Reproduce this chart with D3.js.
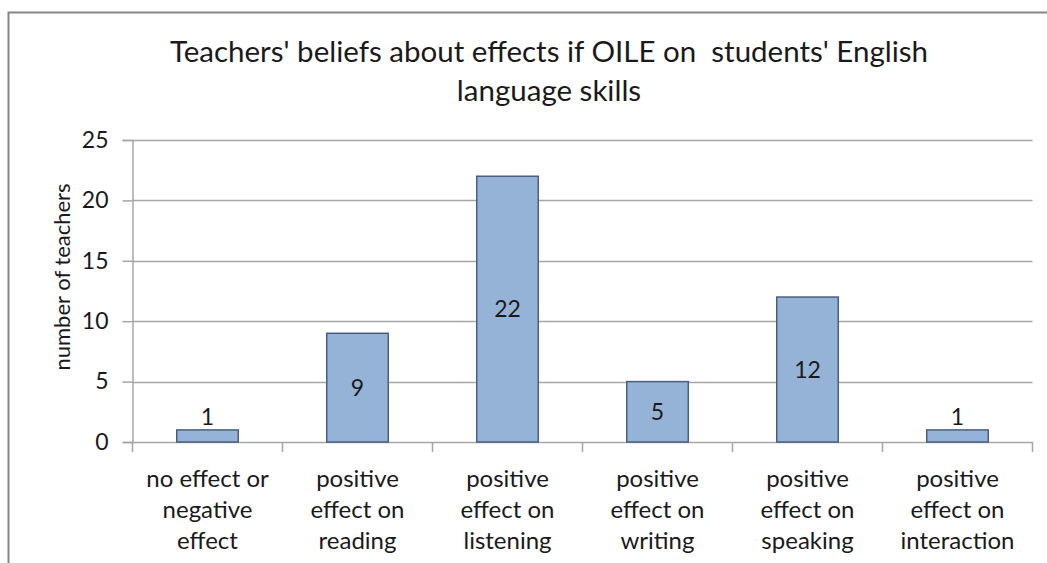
<!DOCTYPE html>
<html>
<head>
<meta charset="utf-8">
<script src="https://cdn.jsdelivr.net/npm/d3@7"></script>
<style>
 body { margin: 0; background: #fff; }
 text { font-family: Lato, "Open Sans", sans-serif; fill: #1a1a1a; }
</style>
</head>
<body>
<div id="chart"></div>
<script>
const categories = [
 ["no effect or", "negative", "effect"],
 ["positive", "effect on", "reading"],
 ["positive", "effect on", "listening"],
 ["positive", "effect on", "writing"],
 ["positive", "effect on", "speaking"],
 ["positive", "effect on", "interaction"]
];
const values = [1, 9, 22, 5, 12, 1];
const yTicks = [0, 5, 10, 15, 20, 25];
const titleLines = ["Teachers' beliefs about effects if OILE on  students' English", "language skills"];
const yLabel = "number of teachers";

const width = 1047, height = 563;
const plot = { left: 132.5, right: 1032.5, top: 140, bottom: 442 };

const svg = d3.select("#chart")
 .append("svg")
 .attr("width", width)
 .attr("height", height);

// chart frame (cropped on the right and bottom)
svg.append("rect")
 .attr("x", 8.5).attr("y", 12.5)
 .attr("width", 1100).attr("height", 600)
 .attr("fill", "#fff")
 .attr("stroke", "#868686")
 .attr("stroke-width", 2);

const x = d3.scaleBand()
 .domain(d3.range(values.length))
 .range([plot.left, plot.right])
 .paddingInner(0.59)
 .paddingOuter(0.295);

const xEdges = d3.scaleLinear()
 .domain([0, values.length])
 .range([plot.left, plot.right]);

const y = d3.scaleLinear()
 .domain([0, 25])
 .range([plot.bottom, plot.top]);

// gridlines
svg.append("g")
 .selectAll("line")
 .data(yTicks.filter(d => d > 0))
 .join("line")
 .attr("x1", plot.left).attr("x2", plot.right)
 .attr("y1", d => Math.round(y(d)) + 0.5)
 .attr("y2", d => Math.round(y(d)) + 0.5)
 .attr("stroke", "#a6a6a6")
 .attr("stroke-width", 1.5);

// y axis
const yAxis = svg.append("g")
 .attr("transform", `translate(${plot.left},0)`)
 .call(d3.axisLeft(y).tickValues(yTicks).tickSize(10).tickPadding(14));
yAxis.select(".domain").attr("stroke", "#a6a6a6").attr("stroke-width", 1.5);
yAxis.selectAll(".tick line").attr("stroke", "#a6a6a6").attr("stroke-width", 1.5);
yAxis.selectAll(".tick text")
 .attr("font-family", "Lato, sans-serif")
 .attr("font-size", 23)
 .attr("fill", "#1a1a1a");

// x axis baseline and category separators
const xAxis = svg.append("g");
xAxis.append("line")
 .attr("x1", plot.left).attr("x2", plot.right)
 .attr("y1", plot.bottom + 0.5).attr("y2", plot.bottom + 0.5)
 .attr("stroke", "#a6a6a6").attr("stroke-width", 1.5);
xAxis.selectAll(".sep")
 .data(d3.range(values.length + 1))
 .join("line")
 .attr("class", "sep")
 .attr("x1", d => xEdges(d)).attr("x2", d => xEdges(d))
 .attr("y1", plot.bottom).attr("y2", plot.bottom + 10)
 .attr("stroke", "#a6a6a6").attr("stroke-width", 1.5);

// category labels
const catLabels = svg.append("g")
 .selectAll("text")
 .data(categories)
 .join("text")
 .attr("text-anchor", "middle")
 .attr("font-size", 24)
 .attr("x", (d, i) => x(i) + x.bandwidth() / 2)
 .attr("y", 487);
catLabels.selectAll("tspan")
 .data(d => d)
 .join("tspan")
 .attr("x", function () { return d3.select(this.parentNode).attr("x"); })
 .attr("dy", (d, i) => i === 0 ? 0 : 31)
 .text(d => d);

// bars
svg.append("g")
 .selectAll("rect")
 .data(values)
 .join("rect")
 .attr("x", (d, i) => x(i))
 .attr("y", d => y(d))
 .attr("width", x.bandwidth())
 .attr("height", d => y(0) - y(d))
 .attr("fill", "#95b3d7")
 .attr("stroke", "#4a5f80")
 .attr("stroke-width", 1.5);

// data labels: centred in the bar, above it when the bar is too short
svg.append("g")
 .selectAll("text")
 .data(values)
 .join("text")
 .attr("text-anchor", "middle")
 .attr("font-size", 23)
 .attr("x", (d, i) => x(i) + x.bandwidth() / 2)
 .attr("y", d => {
  const h = y(0) - y(d);
  return h < 24 ? y(d) - 5 : (y(d) + y(0)) / 2 + 8;
 })
 .text(d => d);

// title
svg.append("text")
 .attr("text-anchor", "middle")
 .attr("font-size", 29.5)
 .style("white-space", "pre")
 .attr("x", 549)
 .attr("y", 62)
 .selectAll("tspan")
 .data(titleLines)
 .join("tspan")
 .attr("x", 549)
 .attr("dy", (d, i) => i === 0 ? 0 : 39)
 .text(d => d);

// y axis title
svg.append("text")
 .attr("text-anchor", "middle")
 .attr("font-size", 22)
 .attr("transform", "translate(70,277) rotate(-90)")
 .text(yLabel);
</script>
</body>
</html>
